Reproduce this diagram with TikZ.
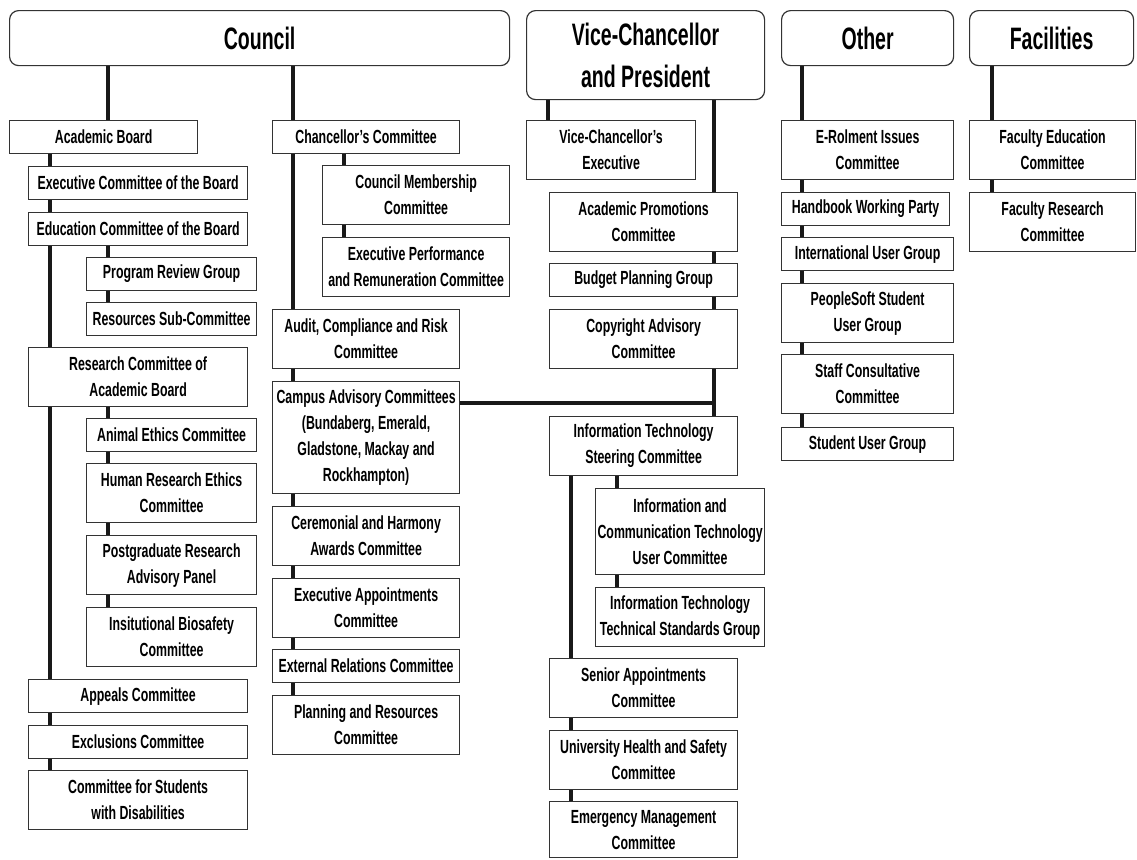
\documentclass[tikz,border=0pt]{standalone}
\usepackage{fontspec}
\setmainfont{Liberation Sans}[FakeStretch=0.65]
\newfontfamily\headfont{Liberation Sans}[FakeStretch=0.63]
\usetikzlibrary{backgrounds}

\begin{document}
\begin{tikzpicture}[x=0.5pt,y=-0.5pt,
  link/.style={draw=black!90,line width=1.6pt},
  unit/.style={draw=black!80,fill=white,line width=0.6pt,anchor=north west,align=center,inner sep=0.5pt,font=\fontsize{9.5}{13}\selectfont\bfseries},
  head/.style={unit,rounded corners=4.5pt,font=\headfont\fontsize{15.5}{21}\selectfont\bfseries,minimum height=27.5pt},
  h1/.style={minimum height=16.5pt}, h2/.style={minimum height=29.5pt},
  h3/.style={minimum height=43pt}, h4/.style={minimum height=56pt},
  wa/.style={minimum width=109.5pt}, wb/.style={minimum width=85pt},
  wc/.style={minimum width=93.5pt}, wd/.style={minimum width=94pt},
  we/.style={minimum width=84.5pt}, wf/.style={minimum width=86pt}]

  \useasboundingbox (0,0) rectangle (1137,859);

  % heads
  \node[head,minimum width=250pt] (council) at (9,10) {Council};
  \node[head,minimum width=119pt,minimum height=44.5pt] (vc) at (526,10) {Vice-Chancellor\\and President};
  \node[head,minimum width=86pt] (other) at (781,10) {Other};
  \node[head,minimum width=82pt] (facil) at (969,10) {Facilities};

  % council, left branch
  \node[unit,h1,minimum width=94pt] (ab) at (9,120) {Academic Board};
  \node[unit,h1,wa] (ecb) at (28,166) {Executive Committee of the Board};
  \node[unit,h1,wa] (edcb) at (28,212) {Education Committee of the Board};
  \node[unit,h1,wb] (prg) at (86,257) {Program Review Group};
  \node[unit,h1,wb] (rsc) at (86,302) {Resources Sub-Committee};
  \node[unit,h2,wa] (rcab) at (28,347) {Research Committee of\\Academic Board};
  \node[unit,h1,wb] (aec) at (86,418) {Animal Ethics Committee};
  \node[unit,h2,wb] (hrec) at (86,463) {Human Research Ethics\\Committee};
  \node[unit,h2,wb] (prap) at (86,535) {Postgraduate Research\\Advisory Panel};
  \node[unit,h2,wb] (ibc) at (86,607) {Insitutional Biosafety\\Committee};
  \node[unit,h1,wa] (apc) at (28,679) {Appeals Committee};
  \node[unit,h1,wa] (exc) at (28,725) {Exclusions Committee};
  \node[unit,h2,wa] (csd) at (28,770) {Committee for Students\\with Disabilities};

  % council, right branch
  \node[unit,h1,wc] (cc) at (272,120) {Chancellor’s Committee};
  \node[unit,h2,wc] (cmc) at (322,165) {Council Membership\\Committee};
  \node[unit,h2,wc] (eprc) at (322,237) {Executive Performance\\and Remuneration Committee};
  \node[unit,h2,wc] (acrc) at (272,309) {Audit, Compliance and Risk\\Committee};
  \node[unit,h4,wc] (cac) at (272,381) {Campus Advisory Committees\\(Bundaberg, Emerald,\\Gladstone, Mackay and\\Rockhampton)};
  \node[unit,h2,wc] (chac) at (272,506) {Ceremonial and Harmony\\Awards Committee};
  \node[unit,h2,wc] (eac) at (272,578) {Executive Appointments\\Committee};
  \node[unit,h1,wc] (erc) at (272,649) {External Relations Committee};
  \node[unit,h2,wc] (prc) at (272,695) {Planning and Resources\\Committee};

  % vice-chancellor
  \node[unit,h2,we] (vce) at (526,120) {Vice-Chancellor’s\\Executive};
  \node[unit,h2,wd] (apcm) at (549,192) {Academic Promotions\\Committee};
  \node[unit,h1,wd] (bpg) at (549,263) {Budget Planning Group};
  \node[unit,h2,wd] (cpac) at (549,309) {Copyright Advisory\\Committee};
  \node[unit,h2,wd] (itsc) at (549,416) {Information Technology\\Steering Committee};
  \node[unit,h3,we] (ictu) at (595,488) {Information and\\Communication Technology\\User Committee};
  \node[unit,h2,we] (itts) at (595,587) {Information Technology\\Technical Standards Group};
  \node[unit,h2,wd] (sac) at (549,658) {Senior Appointments\\Committee};
  \node[unit,h2,wd] (uhsc) at (549,730) {University Health and Safety\\Committee};
  \node[unit,h2,wd,minimum height=28pt] (emc) at (549,801) {Emergency Management\\Committee};

  % other
  \node[unit,h2,wf] (eric) at (781,120) {E-Rolment Issues\\Committee};
  \node[unit,h1,minimum width=84pt] (hwp) at (781,192) {Handbook Working Party};
  \node[unit,h1,wf] (iug) at (781,237) {International User Group};
  \node[unit,h2,wf] (psug) at (781,283) {PeopleSoft Student\\User Group};
  \node[unit,h2,wf] (scc) at (781,354) {Staff Consultative\\Committee};
  \node[unit,h1,wf] (sug) at (781,427) {Student User Group};

  % facilities
  \node[unit,h2,minimum width=83pt] (fec) at (969,120) {Faculty Education\\Committee};
  \node[unit,h2,minimum width=83pt] (frc) at (969,192) {Faculty Research\\Committee};

  % trunk positions
  \coordinate (xa) at (50,0);
  \coordinate (xb) at (108,0);
  \coordinate (xc) at (293,0);
  \coordinate (xd) at (344,0);
  \coordinate (xe) at (548,0);
  \coordinate (xf) at (714,0);
  \coordinate (xg) at (571,0);
  \coordinate (xh) at (617,0);
  \coordinate (xi) at (802,0);
  \coordinate (xj) at (992,0);
  \coordinate (jn) at (714,403);

  \begin{scope}[on background layer]
    \path[link]
      (xb |- council.south) -- (xb |- ab.north)
      (xa |- ab.south) -- (xa |- csd.north)
      (xb |- edcb.south) -- (xb |- rsc.north)
      (xb |- rcab.south) -- (xb |- ibc.north)
      (xc |- council.south) -- (xc |- cc.north)
      (xc |- cc.south) -- (xc |- prc.north)
      (xd |- cc.south) -- (xd |- eprc.north)
      (xe |- vc.south) -- (xe |- vce.north)
      (xf |- vc.south) -- (xf |- itsc.north)
      (cac.east |- jn) -- (jn)
      (xg |- itsc.south) -- (xg |- emc.north)
      (xh |- itsc.south) -- (xh |- itts.north)
      (xi |- other.south) -- (xi |- sug.north)
      (xj |- facil.south) -- (xj |- frc.north);
  \end{scope}
\end{tikzpicture}
\end{document}
